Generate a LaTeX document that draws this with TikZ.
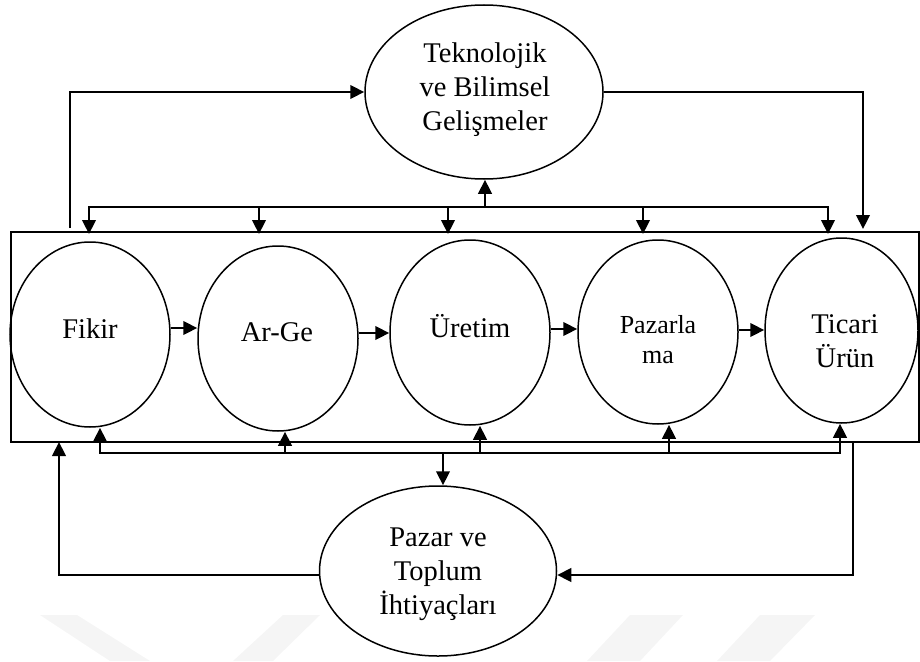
\documentclass[tikz,border=0pt]{standalone}
\usepackage{fontspec}
\setmainfont{Liberation Serif}
\usetikzlibrary{shapes.geometric,arrows.meta,calc}
\begin{document}
\begin{tikzpicture}[x=1pt,y=-1pt,
  stage/.style={draw, ellipse, line width=1.5pt, inner sep=0pt,
    minimum width=160pt, minimum height=185pt},
  lbl/.style={font=\fontsize{28.5}{34}\selectfont, align=center,
    anchor=base, inner sep=0pt},
  small/.style={font=\fontsize{26}{30}\selectfont},
  arr/.style={line width=2.3pt, -{Triangle[length=14pt,width=13.5pt]}},
  wmark/.style={fill=black!4, draw=none}
]
\useasboundingbox (0,0) rectangle (920,661);

% faint background bands
\fill[wmark] (40,615) -- (77,615) -- (150,661) -- (110,661) -- cycle;
\fill[wmark] (283,615) -- (320,615) -- (273,661) -- (233,661) -- cycle;
\fill[wmark] (630,615) -- (683,615) -- (640,661) -- (587,661) -- cycle;
\fill[wmark] (760,615) -- (815,615) -- (770,661) -- (717,661) -- cycle;

% frame around the chain of stages
\node[draw, line width=2.2pt, minimum width=908pt, minimum height=210pt,
  anchor=north west, inner sep=0pt] (chain) at (10,231) {};

% stages
\node[stage] (fikir)  at (90,334.5) {};
\node[stage] (arge)   at (278,338.5) {};
\node[stage] (uretim) at (470,332.5) {};
\node[stage, minimum height=184pt] (pazar) at (658,332) {};
\node[stage, minimum width=153pt] (ticari) at (841.5,330.5) {};

% environment
\node[stage, minimum width=238pt, minimum height=174pt] (tech) at (484,92) {};
\node[stage, minimum width=237pt, minimum height=170pt] (needs) at (438,571) {};

% labels
\node[lbl] (lfikir)  at (90,338)   {Fikir};
\node[lbl] (large)   at (277,341.5) {Ar-Ge};
\node[lbl] (luretim) at (470,337)  {Üretim};
\node[lbl, small] (lpazar) at (658,363) {Pazarla\\ma};
\node[lbl] (lticari) at (845,367)  {Ticari\\Ürün};
\node[lbl] (ltech)   at (485,130)  {Teknolojik\\ve Bilimsel\\Gelişmeler};
\node[lbl] (lneeds)  at (438,614)  {Pazar ve\\Toplum\\İhtiyaçları};

% flow along the chain
\draw[arr] (fikir.east |- 0,328)  -- (arge.west |- 0,328);
\draw[arr] (arge.east |- 0,333)   -- (uretim.west |- 0,333);
\draw[arr] (uretim.east |- 0,329) -- (pazar.west |- 0,329);
\draw[arr] (pazar.east |- 0,330)  -- (ticari.west |- 0,330);

% junction points of the two distribution lines
\coordinate (ta) at (89,207);
\coordinate (tb) at (828,207);
\coordinate (ba) at (100,453);
\coordinate (bb) at (840,453);

% upper distribution line: technology feeds every stage
\draw[arr] (tb) -- (ta) -- (ta |- 0,234);
\draw[arr] (ta) -- (tb) -- (tb |- 0,234);
\draw[arr] (259,207) -- (259,234);
\draw[arr] (448,207) -- (448,234);
\draw[arr] (643,207) -- (643,234);
\draw[arr] (485,207) -- (485,207 |- tech.south);

% lower distribution line: market needs feed every stage
\draw[arr] (bb) -- (ba) -- (ba |- fikir.south);
\draw[arr] (ba) -- (bb) -- (bb |- ticari.south);
\draw[arr] (285,453) -- (285,453 |- arge.south);
\draw[arr] (480,453) -- (480,453 |- uretim.south);
\draw[arr] (669,453) -- (669,453 |- pazar.south);
\draw[arr] (443,453) -- (443,453 |- needs.north);

% outer loops
\draw[arr] (70,228) |- (tech.west);
\draw[arr] (tech.east) -| (863,229);
\draw[arr] ($(needs.west)+(0,4)$) -| (59,442);
\draw[arr] (853,442) |- ($(needs.east)+(0,4)$);
\end{tikzpicture}
\end{document}
